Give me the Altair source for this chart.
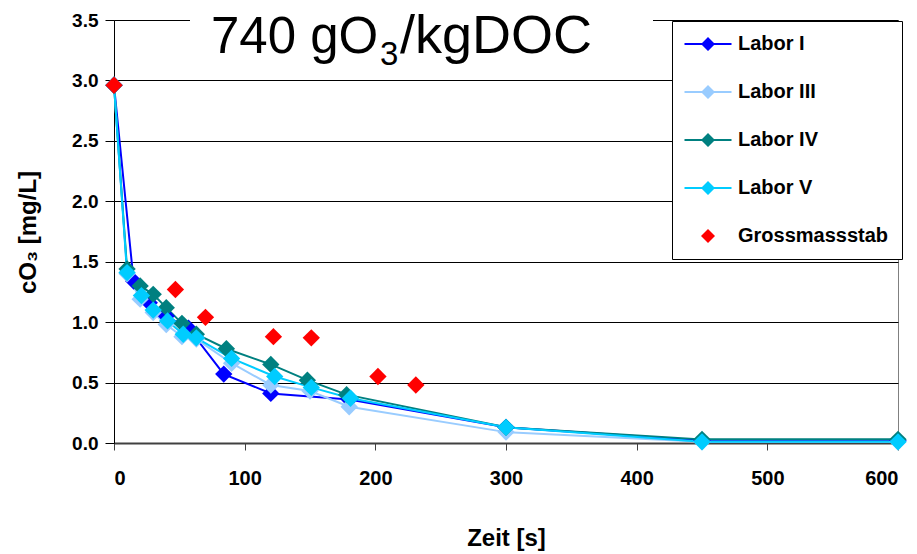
import altair as alt
import pandas as pd

# ---------------- data ----------------
SERIES = ["Labor I", "Labor III", "Labor IV", "Labor V", "Grossmassstab"]
COLORS = ["#0000FF", "#99CCFF", "#008080", "#00CCFF", "#FF0000"]

labor1_t = [0, 15, 27, 40, 57, 84, 120, 180, 300, 450, 600]
labor1_v = [2.96, 1.34, 1.16, 1.05, 0.95, 0.57, 0.41, 0.36, 0.13, 0.02, 0.02]

labor3_t = [0, 10, 20, 30, 40, 52, 63, 90, 120, 150, 180, 300, 450, 600]
labor3_v = [2.96, 1.40, 1.19, 1.08, 0.98, 0.88, 0.86, 0.66, 0.48, 0.43, 0.30, 0.09, 0.01, 0.01]

labor4_t = [0, 10, 20, 30, 40, 52, 63, 86, 120, 148, 178, 300, 450, 600]
labor4_v = [2.96, 1.44, 1.30, 1.23, 1.12, 0.99, 0.90, 0.78, 0.65, 0.52, 0.40, 0.13, 0.03, 0.03]

labor5_t = [0, 10, 21, 30, 41, 53, 63, 90, 123, 151, 181, 300, 450, 600]
labor5_v = [2.96, 1.41, 1.22, 1.10, 1.01, 0.90, 0.87, 0.70, 0.55, 0.46, 0.37, 0.13, 0.01, 0.01]

gross_t = [0, 47, 70, 122, 151, 202, 231]
gross_v = [2.96, 1.27, 1.04, 0.88, 0.87, 0.55, 0.48]

x_ticks = [0, 100, 200, 300, 400, 500, 600]
y_ticks = [0.0, 0.5, 1.0, 1.5, 2.0, 2.5, 3.0, 3.5]

rows = []
for name, ts, vs in [
    ("Labor I", labor1_t, labor1_v),
    ("Labor III", labor3_t, labor3_v),
    ("Labor IV", labor4_t, labor4_v),
    ("Labor V", labor5_t, labor5_v),
    ("Grossmassstab", gross_t, gross_v),
]:
    for t, v in zip(ts, vs):
        rows.append({"series": name, "t": t, "v": v, "k": SERIES.index(name)})
df = pd.DataFrame(rows)
lab = df[df.series != "Grossmassstab"]

FONT = "Liberation Sans"
# legend symbols: thin filled bar + diamond (filled, no stroke needed)
LINE_PATH = "M-2.35,-0.1L2.35,-0.1L2.35,0.1L-2.35,0.1Z M0,-0.7L0.7,0L0,0.7L-0.7,0Z"
DIAMOND_PATH = "M0,-0.7L0.7,0L0,0.7L-0.7,0Z"

color_scale = alt.Scale(domain=SERIES, range=COLORS)
shape_scale = alt.Scale(domain=SERIES, range=[LINE_PATH] * 4 + [DIAMOND_PATH])

x_enc = alt.X(
    "t:Q",
    scale=alt.Scale(domain=[0, 600], nice=False),
    title="Zeit [s]",
    axis=alt.Axis(
        values=x_ticks, format="d", grid=False,
        labelFont=FONT, labelFontSize=20, labelFontWeight="bold", labelColor="black",
        labelPadding=18, tickSize=7, tickColor="#404040", domainColor="#404040",
        domainWidth=2, titleFont=FONT, titleFontSize=24, titleFontWeight="bold",
        titleColor="black", titleY=102, titleBaseline="alphabetic", zindex=0,
    ),
)
y_enc = alt.Y(
    "v:Q",
    scale=alt.Scale(domain=[0, 3.5], nice=False),
    title="cO₃ [mg/L]",
    axis=alt.Axis(
        values=y_ticks, format=".1f", grid=True, gridColor="black", gridWidth=1,
        labelFont=FONT, labelFontSize=19, labelFontWeight="bold", labelColor="black",
        labelPadding=7, tickSize=9, tickColor="black", domainColor="black",
        titleFont=FONT, titleFontSize=24, titleFontWeight="bold", titleColor="black",
        titleAngle=270, titleX=-86, titleY=212, titleAlign="center",
        titleBaseline="middle", zindex=0,
    ),
)

legend = alt.Legend(
    title=None, orient="none", legendX=558, legendY=1,
    fillColor="white", strokeColor="black", padding=13,
    symbolSize=400, symbolOffset=13, labelOffset=20, rowPadding=28,
    symbolOpacity=1, symbolStrokeWidth=0,
    labelFont=FONT, labelFontSize=20, labelFontWeight="bold", labelColor="black",
)

# invisible (zero-size) layer that only drives the legend; listed first so that
# its legend definition wins when the layers' legends are merged
legend_layer = alt.Chart(df).mark_point(filled=True, opacity=1, size=0).encode(
    x=x_enc, y=y_enc,
    color=alt.Color("series:N", scale=color_scale, legend=legend),
    shape=alt.Shape("series:N", scale=shape_scale, legend=legend),
)

lines = alt.Chart(lab).mark_line(strokeWidth=2).encode(
    x=x_enc, y=y_enc,
    color=alt.Color("series:N", scale=color_scale),
    detail="series:N",
)

points = alt.Chart(df).mark_point(filled=True, shape="diamond", size=300, opacity=1).encode(
    x=x_enc, y=y_enc,
    color=alt.Color("series:N", scale=color_scale),
    order=alt.Order("k:Q"),
)

dummy = pd.DataFrame({"a": [0]})
title_box = alt.Chart(dummy).mark_rect(fill="white").encode(
    x=alt.value(76), x2=alt.value(539), y=alt.value(-20), y2=alt.value(52)
)
t1 = alt.Chart(dummy).mark_text(
    text="740 gO", font=FONT, fontSize=51, align="left", baseline="alphabetic", color="black"
).encode(x=alt.value(97), y=alt.value(33))
t2 = alt.Chart(dummy).mark_text(
    text="3", font=FONT, fontSize=33, align="left", baseline="alphabetic", color="black"
).encode(x=alt.value(266), y=alt.value(45))
t3 = alt.Chart(dummy).mark_text(
    text="/kgDOC", font=FONT, fontSize=54, align="left", baseline="alphabetic", color="black"
).encode(x=alt.value(286), y=alt.value(33))

chart = alt.layer(
    title_box, legend_layer, lines, points, t1, t2, t3
).properties(
    width=784, height=423,
    padding={"left": 114, "top": 20, "right": 19, "bottom": 111},
    autosize=alt.AutoSizeParams(type="none"),
    background="white",
).configure_view(stroke="#808080", strokeWidth=1)

chart.save("out.html", embed_options={"renderer": "svg", "actions": False})
